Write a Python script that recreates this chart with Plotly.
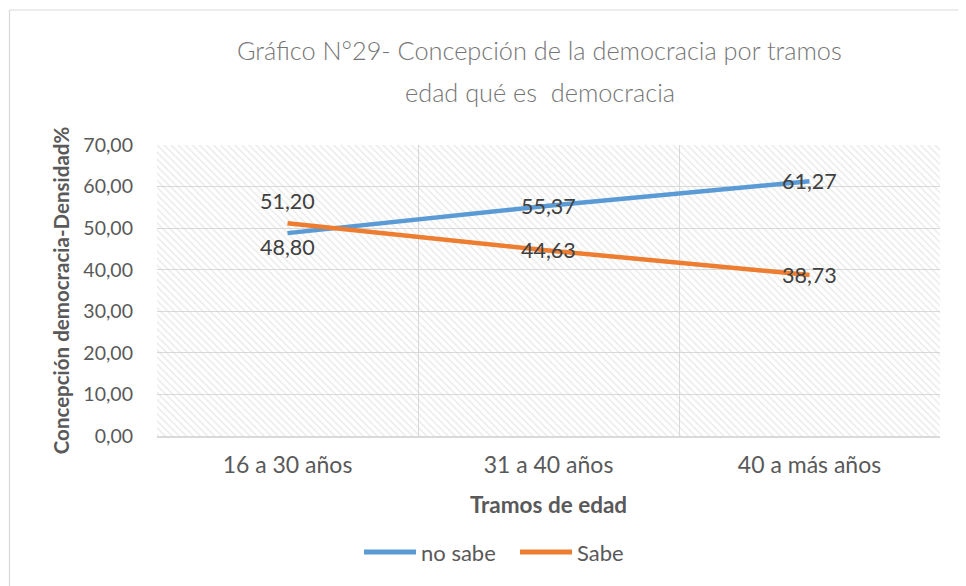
import plotly.graph_objects as go

categories = ["16 a 30 años", "31 a 40 años", "40 a más años"]
no_sabe = [48.80, 55.37, 61.27]
sabe = [51.20, 44.63, 38.73]
y_ticks = [0, 10, 20, 30, 40, 50, 60, 70]
series_names = ["no sabe", "Sabe"]

OFF = 8  # page body margin
W, H = 958, 578
L, T = 149, 137
pw, ph = 783, 291
R, B = W - L - pw, H - T - ph

def px_x(p):
    return (p - OFF - L) / pw

def px_y(p):
    return (T + ph - (p - OFF)) / ph

BLUE = "#5B9BD5"
ORANGE = "#ED7D31"
TXT = "#595959"
FONT = "Lato"

fig = go.Figure()

# hatched plot-area background (hidden helper axes)
fig.add_trace(go.Bar(
    x=[0.5], y=[1], width=[1], xaxis="x", yaxis="y",
    marker=dict(color="rgba(0,0,0,0)", line=dict(width=0),
                pattern=dict(shape="\\", fgcolor="#d0d0d0", bgcolor="rgba(0,0,0,0)",
                             size=5, solidity=0.25)),
    showlegend=False, hoverinfo="skip"))

fig.add_trace(go.Scatter(
    x=categories, y=no_sabe, name=series_names[0], mode="lines",
    line=dict(color=BLUE, width=4.5), xaxis="x2", yaxis="y2", showlegend=False))
fig.add_trace(go.Scatter(
    x=categories, y=sabe, name=series_names[1], mode="lines",
    line=dict(color=ORANGE, width=4.5), xaxis="x2", yaxis="y2", showlegend=False))

def fmt(v):
    return f"{v:.2f}".replace(".", ",")

annotations = []
shifts_ns = [-14, 0, 0]
shifts_s = [22, 0, 0]
for c, v, s in zip(categories, no_sabe, shifts_ns):
    annotations.append(dict(x=c, y=v, xref="x2", yref="y2", text=fmt(v), showarrow=False,
                            yshift=s, font=dict(family=FONT, size=21.5, color="#404040")))
for c, v, s in zip(categories, sabe, shifts_s):
    annotations.append(dict(x=c, y=v, xref="x2", yref="y2", text=fmt(v), showarrow=False,
                            yshift=s, font=dict(family=FONT, size=21.5, color="#404040")))

title_lines = ["Gráfico N°29- Concepción de la democracia por tramos",
               "edad qué es  democracia"]
for txt, yy in zip(title_lines, [50, 92]):
    annotations.append(dict(text=txt, xref="paper", yref="paper", x=px_x(539.5), y=px_y(yy),
                            xanchor="center", yanchor="middle", showarrow=False,
                            font=dict(family=FONT, size=25.3, color="#757575", weight=300)))

shapes = [
    dict(type="line", xref="paper", yref="paper", x0=px_x(9.5), x1=px_x(975),
         y0=px_y(10), y1=px_y(10), line=dict(color="#d9d9d9", width=1.2)),
    dict(type="line", xref="paper", yref="paper", x0=px_x(9.5), x1=px_x(9.5),
         y0=px_y(10), y1=px_y(600), line=dict(color="#d9d9d9", width=1.2)),
]

# legend (drawn manually to match the long line keys)
legend_y = 552
for name, color, x0, x1 in zip(series_names, [BLUE, ORANGE], [364, 520], [416, 572]):
    shapes.append(dict(type="line", xref="paper", yref="paper", x0=px_x(x0), x1=px_x(x1),
                       y0=px_y(legend_y), y1=px_y(legend_y), line=dict(color=color, width=5)))
    annotations.append(dict(text=name, xref="paper", yref="paper", x=px_x(x1 + 3),
                            y=px_y(legend_y), xanchor="left", yanchor="middle", showarrow=False,
                            font=dict(family=FONT, size=22, color=TXT)))

fig.update_layout(
    width=W, height=H,
    margin=dict(l=L, r=R, t=T, b=B),
    paper_bgcolor="white", plot_bgcolor="white",
    separators=",.",
    showlegend=False,
    font=dict(family=FONT, color=TXT),
    xaxis=dict(range=[0, 1], visible=False, fixedrange=True),
    yaxis=dict(range=[0, 1], visible=False, fixedrange=True),
    xaxis2=dict(overlaying="x", side="bottom", type="category",
                range=[-0.5, 2.5], tickson="boundaries", showgrid=True,
                gridcolor="#d9d9d9", gridwidth=1, ticks="", showline=True,
                linecolor="#d9d9d9", linewidth=1.5, ticklabelstandoff=8,
                tickfont=dict(family=FONT, size=23, color=TXT),
                title=dict(text="<b>Tramos de edad</b>", standoff=20,
                           font=dict(family=FONT, size=22.5, color=TXT))),
    yaxis2=dict(overlaying="y", side="left", range=[0, 70], tickvals=y_ticks,
                tickformat=".2f", showgrid=True, gridcolor="#d9d9d9", gridwidth=1,
                zeroline=False, showline=False, ticks="", ticklabelstandoff=23,
                tickfont=dict(family=FONT, size=19.5, color=TXT),
                title=dict(text="<b>Concepción democracia-Densidad%</b>", standoff=8,
                           font=dict(family=FONT, size=20.5, color=TXT))),
    annotations=annotations,
    shapes=shapes,
)

fig.write_html("out.html")
